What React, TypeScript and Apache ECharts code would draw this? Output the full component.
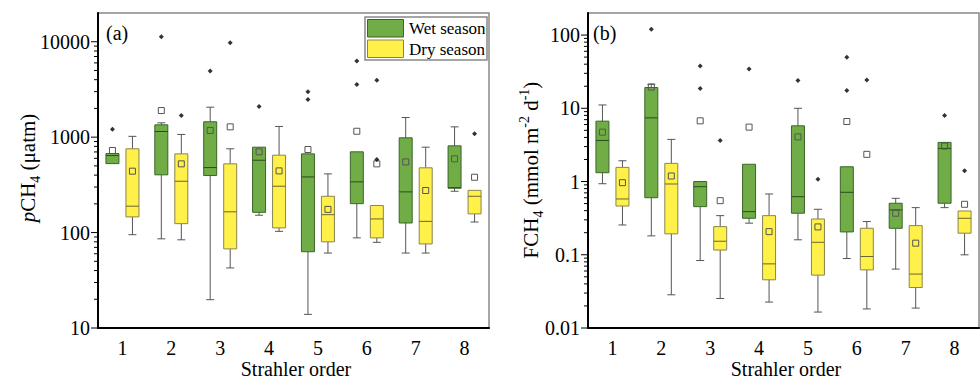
import React, { useEffect, useRef } from 'react';
import * as echarts from 'echarts';

const orders = ['1', '2', '3', '4', '5', '6', '7', '8'];

// each row: [min, q1, median, q3, max, mean]
const pch4Wet = [
  [528, 528, 641, 673, 673, 725],
  [86, 403, 1146, 1346, 1413, 1900],
  [19.8, 396, 480, 1449, 2060, 1175],
  [152, 163, 573, 785, 785, 702],
  [13.9, 63, 383, 668, 668, 742],
  [88, 201, 340, 702, 702, 1153],
  [61, 126, 267, 984, 1607, 550],
  [271, 292, 295, 811, 1282, 593],
];
const pch4Dry = [
  [95, 146, 189, 755, 1020, 440],
  [84, 124, 345, 668, 1067, 525],
  [42.6, 67.5, 165, 525, 755, 1282],
  [103, 112, 306, 647, 1294, 443],
  [61, 80, 154, 240, 412, 175],
  [79, 88, 139, 192, 192, 525],
  [61, 76, 131, 477, 785, 276],
  [129, 157, 240, 277, 277, 380],
];
const pch4WetOutliers = [[1210], [11270], [4920], [2094], [2990, 2480], [6270, 3565], [], []];
const pch4DryOutliers = [[], [1687], [9770], [], [], [3950, 582], [], [1084]];

const fch4Wet = [
  [0.933, 1.32, 3.64, 6.67, 11.1, 4.72],
  [0.181, 0.601, 7.4, 19.2, 21.3, 19.5],
  [0.0834, 0.454, 0.85, 1.0, 1.0, 6.74],
  [0.27, 0.315, 0.388, 1.72, 1.72, 5.53],
  [0.16, 0.369, 0.621, 5.76, 10.0, 4.07],
  [0.0888, 0.205, 0.713, 1.59, 1.59, 6.6],
  [0.0637, 0.23, 0.41, 0.505, 0.59, 0.369],
  [0.44, 0.505, 2.83, 3.42, 3.42, 3.05],
];
const fch4Dry = [
  [0.255, 0.463, 0.578, 1.56, 1.92, 0.964],
  [0.0284, 0.193, 0.925, 1.77, 3.76, 1.19],
  [0.0253, 0.116, 0.153, 0.242, 0.342, 0.548],
  [0.0226, 0.0455, 0.0751, 0.342, 0.676, 0.207],
  [0.0165, 0.0527, 0.148, 0.308, 0.418, 0.24],
  [0.0182, 0.0622, 0.0946, 0.23, 0.284, 2.35],
  [0.0187, 0.0357, 0.0545, 0.25, 0.44, 0.144],
  [0.0998, 0.197, 0.315, 0.396, 0.396, 0.489],
];
const fch4WetOutliers = [[], [120], [37.8, 18.6], [34.4], [23.9], [49.7, 17.5], [], [7.98]];
const fch4DryOutliers = [[], [], [3.64], [], [1.07], [24.4], [], [1.4]];

const pch4Decades = [10, 100, 1000, 10000];
const fch4Decades = [0.01, 0.1, 1, 10, 100];
const minorMultipliers = [2, 3, 4, 5, 6, 7, 8, 9];

const FONT = 'Liberation Serif';
const WET_FILL = '#70ad47';
const WET_STROKE = '#3b6428';
const DRY_FILL = '#fff04a';
const DRY_STROKE = '#8a8450';

function buildTicks(decades: number[]) {
  const out: number[][] = [];
  decades.forEach((d, i) => {
    out.push([0, d, 1]);
    if (i < decades.length - 1) {
      minorMultipliers.forEach((m) => out.push([0, d * m, 0]));
    }
  });
  return out;
}

function boxData(rows: number[][]) {
  return rows.map((r, i) => [i, ...r]);
}

function outlierData(groups: number[][]) {
  const out: number[][] = [];
  groups.forEach((vals, i) => vals.forEach((v) => out.push([i, v])));
  return out;
}

function makeBoxRender(offset: number, fill: string, stroke: string, medColor: string) {
  return (params: any, api: any) => {
    const idx = api.value(0);
    const cx = api.coord([idx, api.value(3)])[0] + offset;
    const yy = (i: number) => api.coord([idx, api.value(i)])[1];
    const yMin = yy(1), yQ1 = yy(2), yMed = yy(3), yQ3 = yy(4), yMax = yy(5), yMean = yy(6);
    const hw = 6.5;
    const cw = 4;
    const wStyle = { stroke: '#555', lineWidth: 1 };
    const children: any[] = [];
    if (yMax < yQ3 - 0.5) {
      children.push({ type: 'line', shape: { x1: cx, y1: yQ3, x2: cx, y2: yMax }, style: wStyle });
      children.push({ type: 'line', shape: { x1: cx - cw, y1: yMax, x2: cx + cw, y2: yMax }, style: wStyle });
    }
    if (yMin > yQ1 + 0.5) {
      children.push({ type: 'line', shape: { x1: cx, y1: yQ1, x2: cx, y2: yMin }, style: wStyle });
      children.push({ type: 'line', shape: { x1: cx - cw, y1: yMin, x2: cx + cw, y2: yMin }, style: wStyle });
    }
    children.push({
      type: 'rect',
      shape: { x: cx - hw, y: yQ3, width: hw * 2, height: yQ1 - yQ3 },
      style: { fill, stroke, lineWidth: 1 },
    });
    children.push({
      type: 'line',
      shape: { x1: cx - hw, y1: yMed, x2: cx + hw, y2: yMed },
      style: { stroke: medColor, lineWidth: 1 },
    });
    children.push({
      type: 'rect',
      shape: { x: cx - 3, y: yMean - 3, width: 6, height: 6 },
      style: { fill: 'none', stroke: '#555', lineWidth: 1 },
    });
    return { type: 'group', children };
  };
}

const tickRender = (params: any, api: any) => {
  const y = api.coord([0, api.value(1)])[1];
  const x0 = params.coordSys.x;
  const len = api.value(2) ? 7 : 4;
  return {
    type: 'line',
    shape: { x1: x0 - len, y1: y, x2: x0, y2: y },
    style: { stroke: '#000', lineWidth: 1 },
  };
};

const fmt = (v: number) => String(parseFloat(Number(v).toPrecision(4)));

export default function App() {
  const ref = useRef<HTMLDivElement>(null);
  useEffect(() => {
    if (!ref.current) return;
    const chart = echarts.init(ref.current, null, { renderer: 'svg' });

    const grids = [
      { left: 98, top: 13, width: 391, height: 315 },
      { left: 588, top: 13, width: 391, height: 315 },
    ];

    const labelStyle = { fontFamily: FONT, fontSize: 20, color: '#000' };

    const xAxes = [0, 1].map((g) => ({
      type: 'category',
      gridIndex: g,
      data: orders,
      boundaryGap: true,
      axisLine: { onZero: false, lineStyle: { color: '#000', width: 2 } },
      axisTick: { alignWithLabel: true, length: 5, lineStyle: { color: '#000', width: 1.5 } },
      axisLabel: { ...labelStyle, margin: 10 },
      splitLine: { show: false },
    }));

    const yCommon = {
      type: 'log',
      logBase: 10,
      axisLine: { show: true, lineStyle: { color: '#000', width: 2 } },
      axisTick: { show: false },
      splitLine: { show: false },
      minorTick: { show: false },
    };
    const yAxes = [
      {
        ...yCommon,
        gridIndex: 0,
        min: 10,
        max: 20000,
        axisLabel: { ...labelStyle, margin: 8, showMaxLabel: false, formatter: fmt },
      },
      {
        ...yCommon,
        gridIndex: 1,
        min: 0.01,
        max: 200,
        axisLabel: { ...labelStyle, margin: 8, showMaxLabel: false, formatter: fmt },
      },
    ];

    const panels = [
      { wet: pch4Wet, dry: pch4Dry, wo: pch4WetOutliers, doo: pch4DryOutliers, ticks: pch4Decades },
      { wet: fch4Wet, dry: fch4Dry, wo: fch4WetOutliers, doo: fch4DryOutliers, ticks: fch4Decades },
    ];

    const series: any[] = [];
    panels.forEach((p, g) => {
      series.push({
        type: 'custom',
        xAxisIndex: g,
        yAxisIndex: g,
        renderItem: tickRender,
        data: buildTicks(p.ticks),
        encode: { x: 0, y: 1 },
        silent: true,
        z: 5,
      });
      series.push({
        type: 'custom',
        name: 'Wet season',
        xAxisIndex: g,
        yAxisIndex: g,
        renderItem: makeBoxRender(-10, WET_FILL, WET_STROKE, '#2c4a1c'),
        data: boxData(p.wet),
        encode: { x: 0, y: [1, 2, 3, 4, 5] },
        z: 2,
      });
      series.push({
        type: 'custom',
        name: 'Dry season',
        xAxisIndex: g,
        yAxisIndex: g,
        renderItem: makeBoxRender(10, DRY_FILL, DRY_STROKE, '#6b6530'),
        data: boxData(p.dry),
        encode: { x: 0, y: [1, 2, 3, 4, 5] },
        z: 2,
      });
      series.push({
        type: 'scatter',
        xAxisIndex: g,
        yAxisIndex: g,
        symbol: 'diamond',
        symbolSize: 5,
        symbolOffset: [-10, 0],
        itemStyle: { color: '#000' },
        data: outlierData(p.wo),
        z: 3,
      });
      series.push({
        type: 'scatter',
        xAxisIndex: g,
        yAxisIndex: g,
        symbol: 'diamond',
        symbolSize: 5,
        symbolOffset: [10, 0],
        itemStyle: { color: '#000' },
        data: outlierData(p.doo),
        z: 3,
      });
    });

    const titleRich = {
      n: { fontFamily: FONT, fontSize: 21, color: '#000', lineHeight: 28 },
      i: { fontFamily: FONT, fontSize: 21, color: '#000', lineHeight: 28, fontStyle: 'italic' },
      sub: { fontFamily: FONT, fontSize: 14, color: '#000', lineHeight: 12, verticalAlign: 'bottom' },
      sup: { fontFamily: FONT, fontSize: 14, color: '#000', lineHeight: 14, verticalAlign: 'top' },
    };

    const graphic: any[] = [
      // legend
      { type: 'rect', shape: { x: 365, y: 17, width: 122, height: 43 }, style: { fill: '#fff', stroke: '#888', lineWidth: 1.5 }, z: 10 },
      { type: 'rect', shape: { x: 367.5, y: 19.5, width: 36, height: 17.5 }, style: { fill: WET_FILL, stroke: WET_STROKE, lineWidth: 1 }, z: 11 },
      { type: 'rect', shape: { x: 367.5, y: 40, width: 36, height: 17.5 }, style: { fill: DRY_FILL, stroke: DRY_STROKE, lineWidth: 1 }, z: 11 },
      { type: 'text', x: 409, y: 28.5, style: { text: 'Wet season', fontFamily: FONT, fontSize: 17, fill: '#000', align: 'left', verticalAlign: 'middle' }, z: 11 },
      { type: 'text', x: 409, y: 49, style: { text: 'Dry season', fontFamily: FONT, fontSize: 17, fill: '#000', align: 'left', verticalAlign: 'middle' }, z: 11 },
      // panel labels
      { type: 'text', x: 106, y: 33, style: { text: '(a)', fontFamily: FONT, fontSize: 20, fill: '#000', align: 'left', verticalAlign: 'middle' }, z: 11 },
      { type: 'text', x: 593, y: 33, style: { text: '(b)', fontFamily: FONT, fontSize: 20, fill: '#000', align: 'left', verticalAlign: 'middle' }, z: 11 },
      // x titles
      { type: 'text', x: 296, y: 368.5, style: { text: 'Strahler order', fontFamily: FONT, fontSize: 20, fill: '#000', align: 'center', verticalAlign: 'middle' }, z: 11 },
      { type: 'text', x: 786, y: 368.5, style: { text: 'Strahler order', fontFamily: FONT, fontSize: 20, fill: '#000', align: 'center', verticalAlign: 'middle' }, z: 11 },
      // y titles
      {
        type: 'text', x: 28, y: 168, rotation: Math.PI / 2,
        style: { text: '{i|p}{n|CH}{sub|4}{n| (μatm)}', rich: titleRich, align: 'center', verticalAlign: 'middle' }, z: 11,
      },
      {
        type: 'text', x: 531, y: 170, rotation: Math.PI / 2,
        style: { text: '{n|FCH}{sub|4}{n| (mmol m}{sup|-2}{n| d}{sup|-1}{n|)}', rich: titleRich, align: 'center', verticalAlign: 'middle' }, z: 11,
      },
    ];

    chart.setOption({
      animation: false,
      backgroundColor: '#fff',
      textStyle: { fontFamily: FONT },
      grid: grids.map((g) => ({ ...g, show: true, borderColor: '#888', borderWidth: 1.5, backgroundColor: 'transparent' })),
      xAxis: xAxes,
      yAxis: yAxes,
      series,
      graphic,
    });
    return () => chart.dispose();
  }, []);
  return <div ref={ref} style={{ position: 'fixed', left: 0, top: 0, width: 980, height: 379 }} />;
}
